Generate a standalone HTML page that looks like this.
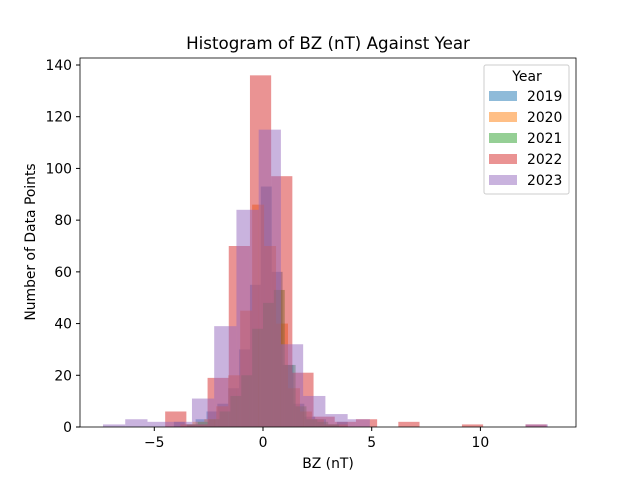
<!DOCTYPE html>
<html><head><meta charset="utf-8"><style>
body{margin:0;background:#fff}
svg text{font-family:"DejaVu Sans","Liberation Sans",sans-serif;fill:#000}
</style></head><body>
<svg width="640" height="480" viewBox="0 0 640 480">
<rect width="640" height="480" fill="#fff"/>
<g id="bars"></g>
<rect x="80" y="58" width="496" height="369" fill="none" stroke="#000" stroke-width="0.8"/>
<g id="axes"></g>
<text x="328" y="49" font-size="16.7" text-anchor="middle">Histogram of BZ (nT) Against Year</text>
<text x="328" y="468" font-size="13.9" text-anchor="middle">BZ (nT)</text>
<text transform="translate(35,242) rotate(-90)" font-size="13.9" text-anchor="middle">Number of Data Points</text>
<g id="legend">
<rect x="484" y="65" width="85" height="129" rx="2" fill="#fff" fill-opacity="0.8" stroke="#ccc"/>
<text x="527" y="81" font-size="13.9" text-anchor="middle">Year</text>
</g>
</svg>
<script>
const years=["2019","2020","2021","2022","2023"];
const colors=["#1f77b4","#ff7f0e","#2ca02c","#d62728","#9467bd"];
const starts=[-4.1,-3.8,-3.5,-4.5,-7.36];
const widths=[0.5,0.55,0.5,0.975,1.023];
const counts2019=[2,1,3,6,9,15,30,55,93,60,24,9,4,3,1,2];
const counts2020=[1,2,3,8,20,45,86,70,40,15,6,3,1,1];
const counts2021=[1,2,3,6,12,20,38,48,53,24,8,3,2,1];
const counts2022=[6,1,19,70,136,97,21,4,2,3,0,2,0,0,1,0,0,1];
const counts2023=[1,3,2,2,11,39,84,115,32,12,5,3,0,0,0,0,0,0,0,1];
const allCounts=[counts2019,counts2020,counts2021,counts2022,counts2023];
const xTicks=[-5,0,5,10];
const yTicks=[0,20,40,60,80,100,120,140];
const X=v=>263+v*21.74;
const Y=v=>427-v*(362/140);
const NS="http://www.w3.org/2000/svg";
const bars=document.getElementById('bars');
allCounts.forEach((cs,s)=>{
  cs.forEach((c,i)=>{
    if(!c)return;
    const x0=X(starts[s]+i*widths[s]),x1=X(starts[s]+(i+1)*widths[s]);
    const r=document.createElementNS(NS,'rect');
    r.setAttribute('x',x0);r.setAttribute('width',x1-x0);
    r.setAttribute('y',Y(c));r.setAttribute('height',Y(0)-Y(c));
    r.setAttribute('fill',colors[s]);r.setAttribute('fill-opacity','0.5');
    
    
    bars.appendChild(r);
  });
});
const axes=document.getElementById('axes');
xTicks.forEach(t=>{
  const l=document.createElementNS(NS,'line');
  l.setAttribute('x1',X(t));l.setAttribute('x2',X(t));l.setAttribute('y1',427);l.setAttribute('y2',431);l.setAttribute('stroke','#000');
  
  
  axes.appendChild(l);
  const tx=document.createElementNS(NS,'text');
  tx.setAttribute('x',X(t));tx.setAttribute('y',447);tx.setAttribute('font-size','13.9');tx.setAttribute('text-anchor','middle');
  tx.textContent=t<0?'\u2212'+(-t):t;
  
  
  axes.appendChild(tx);
});
yTicks.forEach(t=>{
  const l=document.createElementNS(NS,'line');
  l.setAttribute('x1',76);l.setAttribute('x2',80);l.setAttribute('y1',Y(t));l.setAttribute('y2',Y(t));l.setAttribute('stroke','#000');
  
  
  axes.appendChild(l);
  const tx=document.createElementNS(NS,'text');
  tx.setAttribute('x',72);tx.setAttribute('y',Y(t)+5);tx.setAttribute('font-size','13.9');tx.setAttribute('text-anchor','end');
  tx.textContent=t;
  
  
  axes.appendChild(tx);
});
const lg=document.getElementById('legend');
years.forEach((y,i)=>{
  const yy=91+i*21;
  const r=document.createElementNS(NS,'rect');
  r.setAttribute('x',489);r.setAttribute('y',yy);r.setAttribute('width',28);r.setAttribute('height',10);
  r.setAttribute('fill',colors[i]);r.setAttribute('fill-opacity','0.5');
  
  
  lg.appendChild(r);
  const t=document.createElementNS(NS,'text');
  t.setAttribute('x',527);t.setAttribute('y',yy+10);t.setAttribute('font-size','13.9');
  t.textContent=y;
  
  
  lg.appendChild(t);
});
</script>
</body></html>
